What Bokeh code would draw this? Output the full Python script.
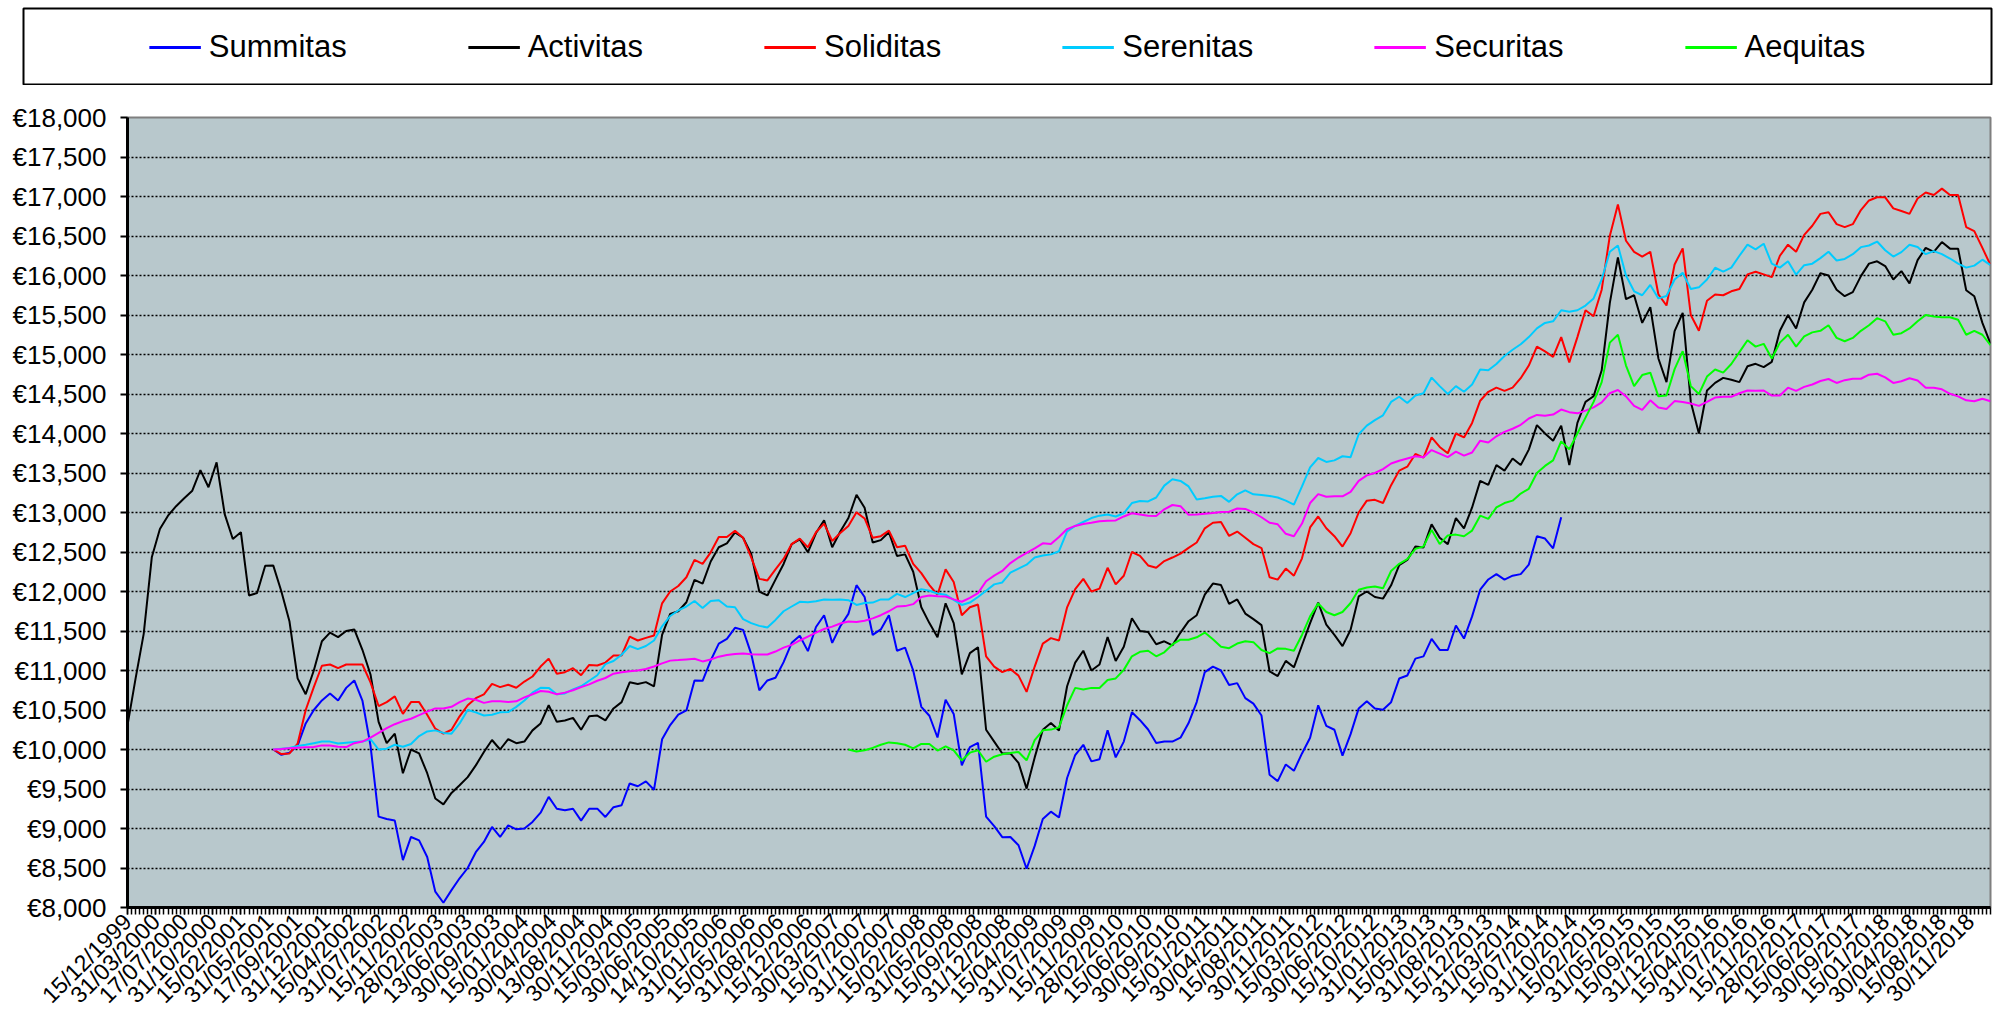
import math
from bokeh.plotting import figure
from bokeh.models import Range1d, FixedTicker, Legend, LegendItem
from bokeh.layouts import column
from bokeh.embed import file_html
from bokeh.resources import INLINE

FONT = "Liberation Sans"

# ---- categories: semi-monthly valuation dates, index 0 = 15/12/1999 ... 460 ----
N_POINTS = 461
TICK_EVERY = 7
tick_labels = [
    "15/12/1999", "31/03/2000", "17/07/2000", "31/10/2000", "15/02/2001", "31/05/2001",
    "17/09/2001", "31/12/2001", "15/04/2002", "31/07/2002", "15/11/2002", "28/02/2003",
    "13/06/2003", "30/09/2003", "15/01/2004", "30/04/2004", "13/08/2004", "30/11/2004",
    "15/03/2005", "30/06/2005", "14/10/2005", "31/01/2006", "15/05/2006", "31/08/2006",
    "15/12/2006", "30/03/2007", "15/07/2007", "31/10/2007", "15/02/2008", "31/05/2008",
    "15/09/2008", "31/12/2008", "15/04/2009", "31/07/2009", "15/11/2009", "28/02/2010",
    "15/06/2010", "30/09/2010", "15/01/2011", "30/04/2011", "15/08/2011", "30/11/2011",
    "15/03/2012", "30/06/2012", "15/10/2012", "31/01/2013", "15/05/2013", "31/08/2013",
    "15/12/2013", "31/03/2014", "15/07/2014", "31/10/2014", "15/02/2015", "31/05/2015",
    "15/09/2015", "31/12/2015", "15/04/2016", "31/07/2016", "15/11/2016", "28/02/2017",
    "15/06/2017", "30/09/2017", "15/01/2018", "30/04/2018", "15/08/2018", "30/11/2018",
]
assert len(tick_labels) == 66

y_ticks = list(range(8000, 18001, 500))
y_labels = ["€{:,}".format(v) for v in y_ticks]

# ---- series: values every 2nd date index (monthly readings) ----
STEP = 2

activitas_start = 0
activitas = [
    10305, 10900, 11464, 12433, 12791, 12960, 13080, 13180, 13276, 13537,
    13320, 13634, 12980, 12665, 12750, 11950, 11980, 12325, 12328, 12000,
    11620, 10900, 10700, 11000, 11371, 11480, 11422, 11500, 11520, 11262,
    10950, 10350, 10080, 10200, 9700, 10000, 9950, 9700, 9380, 9306,
    9450, 9547, 9650, 9799, 9968, 10120, 10000, 10130, 10080, 10100,
    10242, 10330, 10560, 10350, 10368, 10400, 10250, 10420, 10430, 10368,
    10520, 10600, 10850, 10830, 10853, 10800, 11450, 11717, 11750, 11864,
    12147, 12100, 12380, 12560, 12610, 12749, 12680, 12475, 12000, 11950,
    12150, 12349, 12600, 12660, 12496, 12740, 12900, 12560, 12760, 12930,
    13225, 13060, 12620, 12650, 12750, 12450, 12470, 12250, 11800, 11600,
    11420, 11850, 11600, 10950, 11220, 11295, 10250, 10100, 9950, 9950,
    9831, 9505, 9900, 10250, 10335, 10240, 10801, 11100, 11250, 11000,
    11076, 11423, 11120, 11300, 11661, 11501, 11487, 11332, 11370, 11318,
    11480, 11624, 11700, 11960, 12100, 12082, 11844, 11899, 11720, 11650,
    11575, 10990, 10930, 11122, 11040, 11320, 11600, 11860, 11580, 11450,
    11308, 11516, 11938, 12000, 11930, 11910, 12079, 12333, 12400, 12570,
    12558, 12850, 12680, 12600, 12930, 12800, 13064, 13400, 13350, 13600,
    13530, 13684, 13600, 13796, 14106, 14000, 13909, 14100, 13600, 14134,
    14400, 14472, 14800, 15650, 16230, 15700, 15750, 15400, 15600, 14950,
    14650, 15296, 15528, 14400, 14000, 14544, 14641, 14704, 14680, 14650,
    14852, 14882, 14840, 14907, 15300, 15500, 15330, 15660, 15820, 16030,
    16000, 15820, 15738, 15790, 15992, 16150, 16180, 16119, 15950, 16055,
    15900, 16194, 16350, 16300, 16423, 16340, 16340, 15814, 15738, 15400,
    15136,
]

summitas_start = 36
summitas = [
    10000, 9933, 9960, 10050, 10330, 10500, 10621, 10710, 10620, 10780,
    10874, 10620, 10050, 9150, 9120, 9100, 8600, 8893, 8850, 8640,
    8200, 8060, 8220, 8370, 8500, 8700, 8830, 9020, 8893, 9040,
    8990, 8999, 9083, 9200, 9400, 9250, 9230, 9250, 9100, 9250,
    9251, 9146, 9270, 9294, 9570, 9535, 9597, 9490, 10130, 10310,
    10440, 10495, 10874, 10870, 11126, 11340, 11400, 11540, 11514, 11211,
    10750, 10874, 10908, 11106, 11350, 11440, 11245, 11550, 11700, 11350,
    11560, 11717, 12080, 11930, 11450, 11520, 11700, 11250, 11290, 11000,
    10540, 10427, 10152, 10630, 10450, 9800, 10030, 10083, 9150, 9030,
    8890, 8893, 8788, 8490, 8780, 9120, 9213, 9140, 9639, 9930,
    10060, 9850, 9877, 10243, 9900, 10100, 10472, 10371, 10253, 10083,
    10100, 10100, 10150, 10335, 10600, 10980, 11050, 11000, 10816, 10840,
    10650, 10580, 10430, 9680, 9600, 9811, 9730, 9950, 10149, 10560,
    10300, 10250, 9923, 10194, 10520, 10610, 10520, 10504, 10599, 10898,
    10937, 11150, 11179, 11400, 11260, 11260, 11570, 11404, 11685, 12023,
    12152, 12220, 12150, 12200, 12220, 12340, 12700, 12670, 12546, 12940,
]

soliditas_start = 36
soliditas = [
    10000, 9942, 9950, 10073, 10500, 10790, 11060, 11076, 11030, 11076,
    11076, 11076, 10850, 10550, 10600, 10672, 10450, 10600, 10600, 10440,
    10263, 10200, 10250, 10420, 10560, 10650, 10697, 10830, 10790, 10820,
    10781, 10860, 10924, 11050, 11150, 10960, 10979, 11030, 10940, 11070,
    11064, 11100, 11190, 11190, 11430, 11380, 11413, 11443, 11850, 12000,
    12070, 12180, 12400, 12350, 12496, 12690, 12690, 12770, 12680, 12433,
    12160, 12140, 12280, 12412, 12600, 12670, 12559, 12750, 12860, 12640,
    12740, 12830, 13002, 12925, 12680, 12700, 12770, 12560, 12580, 12350,
    12233, 12080, 11959, 12280, 12120, 11700, 11800, 11835, 11180, 11050,
    10980, 11020, 10935, 10730, 11050, 11341, 11410, 11380, 11800, 12030,
    12160, 12000, 12036, 12300, 12090, 12200, 12500, 12450, 12330, 12300,
    12385, 12430, 12480, 12553, 12620, 12800, 12870, 12880, 12704, 12759,
    12680, 12600, 12550, 12180, 12150, 12290, 12200, 12420, 12811, 12950,
    12800, 12700, 12569, 12738, 13000, 13150, 13160, 13120, 13346, 13530,
    13580, 13740, 13695, 13950, 13830, 13750, 14000, 13950, 14134, 14415,
    14528, 14580, 14540, 14580, 14700, 14860, 15100, 15040, 14970, 15220,
    14900, 15220, 15560, 15485, 15820, 16500, 16900, 16440, 16300, 16240,
    16300, 15760, 15620, 16140, 16343, 15500, 15300, 15680, 15760, 15750,
    15800, 15830, 16014, 16047, 16014, 15980, 16250, 16390, 16300, 16515,
    16630, 16780, 16800, 16650, 16613, 16650, 16828, 16950, 16990, 16990,
    16850, 16816, 16780, 16974, 17050, 17020, 17100, 17018, 17018, 16613,
    16562, 16350, 16131,
]

serenitas_start = 36
serenitas = [
    10000, 10010, 10020, 10045, 10060, 10080, 10100, 10100, 10075, 10085,
    10094, 10100, 10130, 10000, 10010, 10060, 10035, 10070, 10170, 10229,
    10242, 10210, 10200, 10330, 10500, 10470, 10430, 10440, 10470, 10474,
    10540, 10620, 10720, 10781, 10780, 10700, 10710, 10760, 10800, 10870,
    10940, 11080, 11120, 11200, 11310, 11270, 11310, 11380, 11560, 11690,
    11760, 11810, 11880, 11790, 11880, 11890, 11810, 11800, 11650, 11600,
    11565, 11545, 11640, 11750, 11810, 11870, 11865, 11877, 11900, 11895,
    11900, 11890, 11830, 11855, 11860, 11900, 11900, 11970, 11930, 11980,
    12030, 12010, 11975, 11960, 11895, 11830, 11860, 11930, 12010, 12090,
    12115, 12240, 12290, 12340, 12430, 12455, 12470, 12510, 12760, 12830,
    12880, 12930, 12960, 12975, 12950, 12990, 13120, 13145, 13140, 13190,
    13340, 13420, 13400, 13330, 13165, 13180, 13200, 13210, 13135, 13230,
    13280, 13230, 13220, 13210, 13190, 13150, 13100, 13330, 13571, 13690,
    13640, 13660, 13712, 13700, 13990, 14100, 14170, 14230, 14400, 14465,
    14387, 14480, 14510, 14708, 14600, 14500, 14600, 14528, 14620, 14809,
    14800, 14880, 14980, 15060, 15130, 15220, 15330, 15400, 15420, 15560,
    15540, 15560, 15620, 15710, 15950, 16300, 16380, 16000, 15800, 15750,
    15880, 15710, 15740, 15950, 16035, 15830, 15850, 15950, 16098, 16050,
    16100, 16250, 16390, 16330, 16402, 16150, 16100, 16180, 16010, 16131,
    16150, 16220, 16300, 16190, 16210, 16270, 16359, 16380, 16430, 16320,
    16240, 16296, 16390, 16360, 16270, 16308, 16270, 16215, 16150, 16100,
    16125, 16200, 16131,
]

securitas_start = 36
securitas = [
    10000, 10005, 10015, 10023, 10028, 10031, 10052, 10052, 10035, 10031,
    10080, 10100, 10150, 10210, 10270, 10320, 10360, 10389, 10435, 10480,
    10520, 10520, 10540, 10600, 10645, 10630, 10590, 10610, 10610, 10600,
    10610, 10660, 10700, 10740, 10730, 10700, 10720, 10750, 10790, 10825,
    10870, 10905, 10960, 10979, 10990, 11000, 11020, 11050, 11090, 11125,
    11132, 11140, 11148, 11115, 11140, 11175, 11195, 11210, 11215, 11205,
    11202, 11202, 11240, 11290, 11325, 11380, 11430, 11480, 11525, 11555,
    11595, 11620, 11615, 11630, 11660, 11700, 11750, 11810, 11815, 11840,
    11930, 11950, 11940, 11936, 11900, 11870, 11920, 11980, 12130, 12200,
    12260, 12360, 12430, 12490, 12545, 12610, 12600, 12690, 12790, 12830,
    12855, 12870, 12890, 12895, 12900, 12950, 12990, 12975, 12960, 12955,
    13040, 13095, 13080, 12970, 12975, 12985, 12995, 13005, 13010, 13050,
    13045, 13000, 12940, 12870, 12850, 12730, 12700, 12860, 13120, 13233,
    13200, 13205, 13205, 13260, 13400, 13470, 13500, 13550, 13620, 13655,
    13684, 13712, 13700, 13790, 13745, 13700, 13770, 13720, 13760, 13909,
    13885, 13965, 14021, 14060, 14110, 14190, 14235, 14225, 14240, 14303,
    14270, 14255, 14290, 14331, 14395, 14510, 14550, 14470, 14350, 14300,
    14420, 14330, 14310, 14410, 14400, 14380, 14350, 14400, 14455, 14465,
    14465, 14510, 14545, 14540, 14544, 14480, 14480, 14580, 14540, 14590,
    14620, 14665, 14690, 14640, 14675, 14693, 14693, 14745, 14756, 14710,
    14640, 14661, 14700, 14670, 14580, 14580, 14560, 14503, 14470, 14420,
    14408, 14439, 14408,
]

aequitas_start = 178
aequitas = [
    10000, 9975, 9990, 10020, 10060, 10090, 10080, 10060, 10014, 10070,
    10069, 9987, 10040, 9990, 9860, 9960, 9990, 9845, 9909, 9940,
    9955, 9968, 9863, 10120, 10243, 10252, 10280, 10560, 10780, 10760,
    10780, 10778, 10880, 10900, 11008, 11180, 11236, 11250, 11180, 11230,
    11330, 11390, 11390, 11420, 11480, 11395, 11300, 11282, 11341, 11370,
    11359, 11260, 11220, 11280, 11274, 11250, 11450, 11685, 11850, 11740,
    11700, 11741, 11854, 12023, 12050, 12062, 12040, 12260, 12350, 12410,
    12540, 12569, 12780, 12600, 12710, 12720, 12700, 12771, 12960, 12920,
    13064, 13120, 13150, 13240, 13300, 13500, 13590, 13660, 13900, 13800,
    14000, 14201, 14400, 14650, 15150, 15250, 14860, 14600, 14740, 14770,
    14470, 14480, 14815, 15042, 14600, 14500, 14720, 14810, 14770, 14880,
    15030, 15180, 15100, 15135, 14950, 15150, 15250, 15100, 15230, 15280,
    15300, 15370, 15210, 15168, 15210, 15300, 15370, 15460, 15420, 15250,
    15270, 15330, 15420, 15500, 15480, 15470, 15472, 15440, 15250, 15300,
    15250, 15117,
]

series = [
    ("Summitas", "#0000FF", summitas_start, summitas, 354),
    ("Activitas", "#000000", activitas_start, activitas, 460),
    ("Soliditas", "#FF0000", soliditas_start, soliditas, 460),
    ("Serenitas", "#00CCFF", serenitas_start, serenitas, 460),
    ("Securitas", "#FF00FF", securitas_start, securitas, 460),
    ("Aequitas", "#00FF00", aequitas_start, aequitas, 460),
]
for name, _, start, vals, end in series:
    assert start + STEP * (len(vals) - 1) == end, (name, len(vals))


def xs_for(start, vals):
    return [start + STEP * i for i in range(len(vals))]


# ---------------- main chart ----------------
p = figure(
    width=1996, height=937,
    x_range=Range1d(0, N_POINTS - 1), y_range=Range1d(8000, 18000),
    output_backend="svg", toolbar_location=None,
    min_border_left=127, min_border_right=6, min_border_top=32, min_border_bottom=115,
)
p.frame_align = False
p.background_fill_color = "#B8C8CC"
p.border_fill_color = "white"
p.outline_line_color = "#7F7F7F"
p.outline_line_width = 2

for name, color, start, vals, end in series:
    p.line(xs_for(start, vals), vals, line_color=color, line_width=2)

# y axis
p.yaxis.ticker = FixedTicker(ticks=y_ticks)
p.yaxis.major_label_overrides = dict(zip(y_ticks, y_labels))
p.yaxis.major_label_text_font = FONT
p.yaxis.major_label_text_font_size = "26px"
p.yaxis.major_label_text_color = "black"
p.yaxis.major_label_standoff = 14
p.yaxis.major_tick_out = 7
p.yaxis.major_tick_in = 0
p.yaxis.major_tick_line_width = 2
p.yaxis.minor_tick_line_color = None
p.yaxis.axis_line_width = 3
p.yaxis.axis_line_color = "black"

# x axis
x_major = [TICK_EVERY * i for i in range(len(tick_labels))]
p.xaxis.ticker = FixedTicker(ticks=x_major, minor_ticks=list(range(N_POINTS)))
p.xaxis.major_label_overrides = dict(zip(x_major, tick_labels))
p.xaxis.major_label_orientation = math.pi / 4
p.xaxis.major_label_text_font = FONT
p.xaxis.major_label_text_font_size = "23px"
p.xaxis.major_label_text_color = "black"
p.xaxis.major_label_standoff = 3
p.xaxis.major_tick_out = 7
p.xaxis.major_tick_in = 0
p.xaxis.minor_tick_out = 7
p.xaxis.minor_tick_in = 0
p.xaxis.major_tick_line_width = 1.5
p.xaxis.minor_tick_line_width = 1.5
p.xaxis.minor_tick_line_color = "black"
p.xaxis.axis_line_width = 3
p.xaxis.axis_line_color = "black"

# grid
p.xgrid.visible = False
p.ygrid.ticker = FixedTicker(ticks=y_ticks[1:-1])
p.ygrid.grid_line_color = "black"
p.ygrid.grid_line_dash = "2 2"
p.ygrid.grid_line_width = 1.5

# ---------------- legend box ----------------
leg = figure(
    width=1996, height=85, x_range=Range1d(0, 1), y_range=Range1d(0, 1),
    output_backend="svg", toolbar_location=None,
    min_border_left=23, min_border_right=5, min_border_top=8, min_border_bottom=0,
)
leg.frame_align = False
leg.axis.visible = False
leg.grid.visible = False
leg.outline_line_color = "black"
leg.outline_line_width = 2
leg.background_fill_color = "white"
leg.border_fill_color = "white"

items = []
for name, color, start, vals, end in series:
    # same data; lies outside this box's 0..1 ranges, so only the legend swatch shows
    r = leg.line(xs_for(start, vals), vals, line_color=color, line_width=3)
    items.append(LegendItem(label=name, renderers=[r]))
legend = Legend(
    items=items, orientation="horizontal", location="center",
    spacing=121, glyph_width=52, label_standoff=8,
    label_text_font=FONT, label_text_font_size="31px", label_text_color="black",
    border_line_alpha=0, background_fill_alpha=0, padding=0, margin=0,
)
leg.add_layout(legend)

layout = column(leg, p, spacing=0)
open("out.html", "w").write(file_html(layout, INLINE))
